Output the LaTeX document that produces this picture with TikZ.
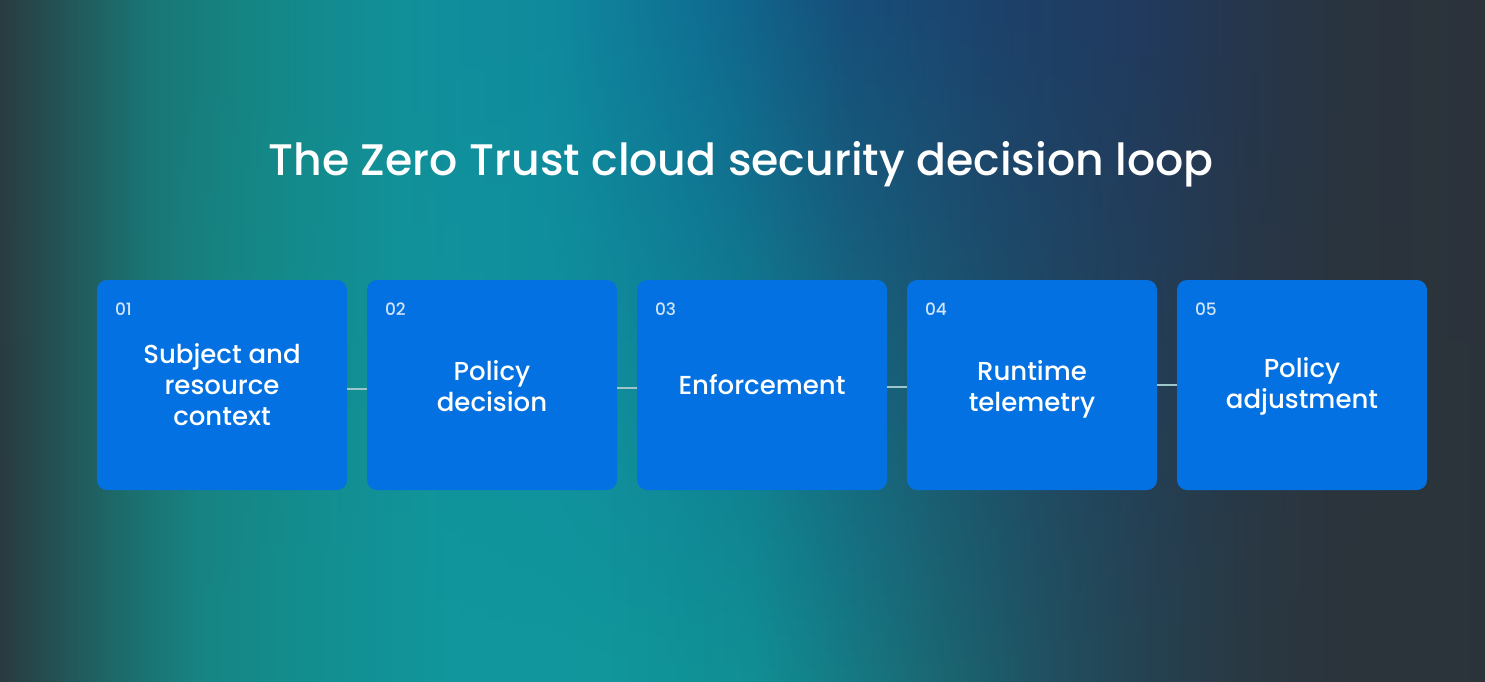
\documentclass[tikz,border=0pt]{standalone}
\usepackage{fontspec}
\setmainfont{Poppins}[UprightFont=* Medium, BoldFont=* SemiBold]
\usetikzlibrary{fadings}
\definecolor{boxc}{HTML}{0371E1}
\definecolor{numc}{HTML}{D2E4F8}
\definecolor{connc}{HTML}{9CC6CC}
% top row colours
\definecolor{ta}{HTML}{2A3C41}
\definecolor{tb}{HTML}{22575A}
\definecolor{tc}{HTML}{1A7676}
\definecolor{td}{HTML}{168583}
\definecolor{te}{HTML}{11909A}
\definecolor{tf}{HTML}{0F8A9E}
\definecolor{tg}{HTML}{0F6F93}
\definecolor{th}{HTML}{174F7A}
\definecolor{ti}{HTML}{1C416B}
\definecolor{tj}{HTML}{213A5E}
\definecolor{tk}{HTML}{26364D}
\definecolor{tl}{HTML}{2A3440}
\definecolor{tm}{HTML}{2B323A}
% bottom row colours
\definecolor{ba}{HTML}{2A3A3F}
\definecolor{bb}{HTML}{1E6464}
\definecolor{bc}{HTML}{178584}
\definecolor{bd}{HTML}{138E8F}
\definecolor{be}{HTML}{11979C}
\definecolor{bf}{HTML}{108F94}
\definecolor{bg}{HTML}{157A84}
\definecolor{bh}{HTML}{1B6470}
\definecolor{bi}{HTML}{215060}
\definecolor{bj}{HTML}{264250}
\definecolor{bk}{HTML}{2A3942}
\definecolor{bl}{HTML}{2C343B}
% TikZ maps the path's bounding box onto 25bp..75bp of the shading
\pgfdeclarehorizontalshading{bgtop}{100bp}{color(0bp)=(ta); color(25bp)=(ta); color(27.4bp)=(tb); color(30.05bp)=(tc); color(33.4bp)=(td); color(38.5bp)=(te); color(43.5bp)=(tf); color(48.6bp)=(tg); color(53.6bp)=(th); color(58.7bp)=(ti); color(63.7bp)=(tj); color(67.1bp)=(tk); color(70.5bp)=(tl); color(75bp)=(tm); color(100bp)=(tm)}
\pgfdeclarehorizontalshading{bgbot}{100bp}{color(0bp)=(ba); color(25bp)=(ba); color(28.4bp)=(bb); color(31.7bp)=(bc); color(35.1bp)=(bd); color(40.2bp)=(be); color(45.2bp)=(be); color(50.3bp)=(bf); color(53.6bp)=(bg); color(57bp)=(bh); color(60.4bp)=(bi); color(63.7bp)=(bj); color(67.1bp)=(bk); color(70.5bp)=(bl); color(100bp)=(bl)}
\tikzfading[name=vfade, top color=transparent!0, bottom color=transparent!100]
\tikzset{
  card/.style={fill=boxc, rounded corners=10pt, minimum width=250pt, minimum height=210pt, inner sep=0pt},
  cardtext/.style={text=white, align=center, inner sep=0pt, font=\fontsize{26}{31}\selectfont},
  numlbl/.style={text=numc, anchor=west, inner sep=0pt, font=\fontsize{17}{20}\selectfont},
  conn/.style={draw=connc, line width=1.5pt},
  titlestyle/.style={text=white, inner sep=0pt, font=\fontsize{44.2}{52}\selectfont}
}
\begin{document}
\begin{tikzpicture}[x=1pt,y=-1pt]
\useasboundingbox (0,0) rectangle (1485,681);
\shade[shading=bgbot] (0,0) rectangle (1485,681);
\shade[shading=bgtop, path fading=vfade] (0,0) rectangle (1485,681);
\node[titlestyle] (title) at (741,164) {The Zero Trust cloud security decision loop};
\node[card] (b1) at (222,385) {};
\node[card] (b2) at (492,385) {};
\node[card] (b3) at (762,385) {};
\node[card] (b4) at (1032,385) {};
\node[card] (b5) at (1302,385) {};
\node[cardtext] (l1) at (b1.center) {Subject and\\resource\\context};
\node[cardtext] (l2) at ([yshift=-1pt]b2.center) {Policy\\decision};
\node[cardtext] (l3) at ([yshift=0pt]b3.center) {Enforcement};
\node[cardtext] (l4) at ([yshift=-4.5pt]b4.center) {Runtime\\telemetry};
\node[cardtext] (l5) at ([yshift=-1.5pt]b5.center) {Policy\\adjustment};
\foreach \i/\n in {1/01,2/02,3/03,4/04,5/05}{
  \node[numlbl] (n\i) at ([xshift=18pt,yshift=-29pt]b\i.north west) {\n};
}
\foreach \a/\b/\d in {1/2/-4,2/3/-3,3/4/-2,4/5/0}{
  \draw[conn] ([yshift=\d pt]b\a.east) -- ([yshift=\d pt]b\b.west);
}
\end{tikzpicture}
\end{document}
